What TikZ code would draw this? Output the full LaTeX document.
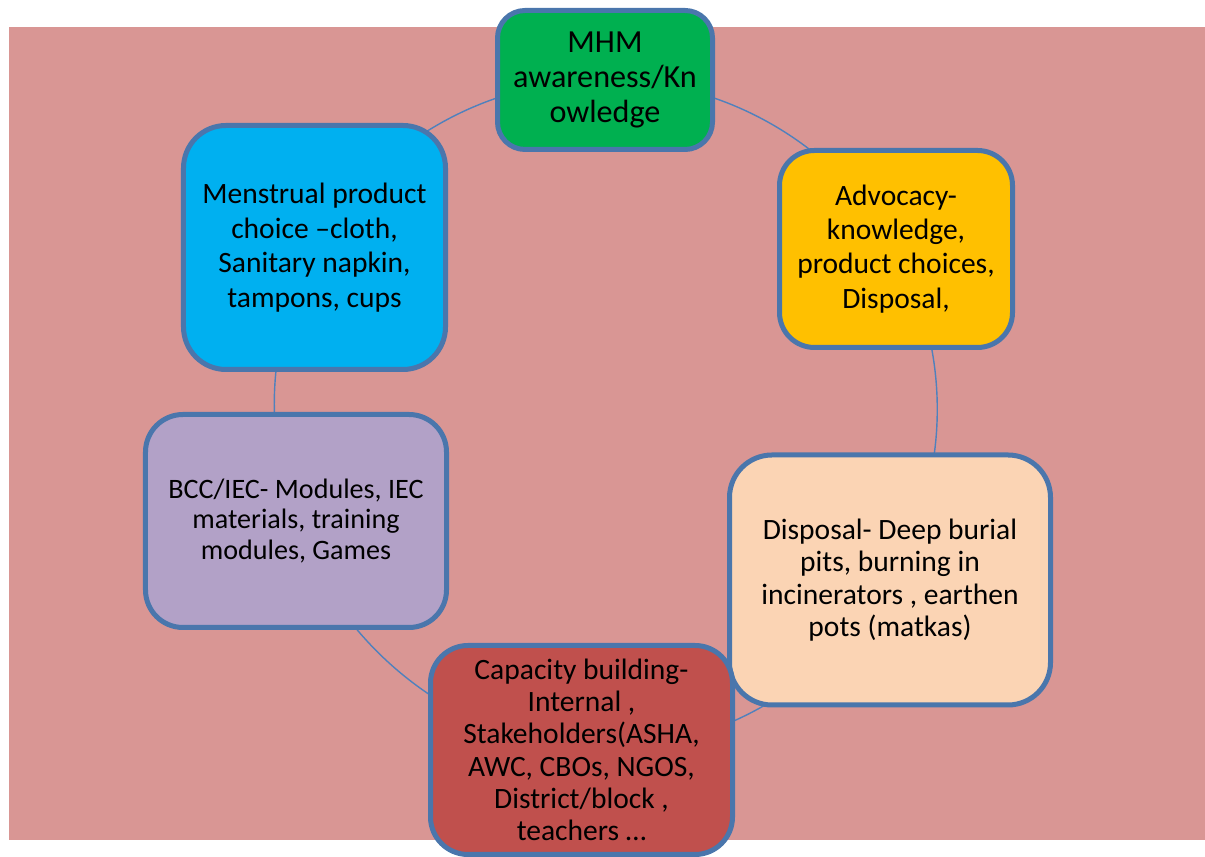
\documentclass[tikz,border=0pt]{standalone}
\usepackage{fontspec}
\setmainfont{Carlito}
\usepackage{xcolor}
\usepackage{tikz}
\usetikzlibrary{backgrounds}
\definecolor{MHMRose}{HTML}{D99694}
\definecolor{MHMEdge}{HTML}{4A76AC}
\definecolor{MHMRing}{HTML}{4F81BD}
\definecolor{MHMGreen}{HTML}{00B050}
\definecolor{MHMGold}{HTML}{FFC000}
\definecolor{MHMPeach}{HTML}{FBD4B4}
\definecolor{MHMRed}{HTML}{C0504D}
\definecolor{MHMLilac}{HTML}{B2A1C7}
\definecolor{MHMSky}{HTML}{00B0F0}

\begin{document}
\begin{tikzpicture}[
  x=0.2mm,y=0.2mm,
  card/.style={rounded corners=7.5mm,draw=MHMEdge,line width=1mm,align=center,inner sep=0pt,font=\fontsize{16.8}{18.4}\selectfont},
  ring/.style={draw=MHMRing,line width=0.8pt,looseness=0.91}
]
\useasboundingbox (0,0) rectangle (1205,857);
\coordinate (hub) at (606,446);
\node[card,fill=MHMGreen,minimum width=43mm,minimum height=27.8mm,rounded corners=5.5mm,font=\fontsize{18.3}{19.8}\selectfont] (aware) at (605,777) {MHM\\awareness/Kn\\owledge};
\node[card,fill=MHMGold,minimum width=46.6mm,minimum height=39.4mm,rounded corners=7mm,font=\fontsize{16.8}{19.5}\selectfont] (advo) at (896,608) {Advocacy-\\knowledge,\\product choices,\\Disposal,};
\node[card,fill=MHMPeach,minimum width=64.2mm,minimum height=50mm,rounded corners=8.5mm] (disp) at (890,277) {Disposal- Deep burial\\pits, burning in\\incinerators , earthen\\pots (matkas)};
\node[card,fill=MHMRed,minimum width=60.4mm,minimum height=41.8mm] (capa) at (581.5,107) {Capacity building-\\Internal ,\\Stakeholders(ASHA,\\AWC, CBOs, NGOS,\\District/block ,\\teachers …};
\node[card,fill=MHMLilac,minimum width=60.2mm,minimum height=42.6mm,font=\fontsize{16}{17.6}\selectfont] (bcc) at (296,336) {BCC/IEC- Modules, IEC\\materials, training\\modules, Games};
\node[card,fill=MHMSky,minimum width=52.4mm,minimum height=48.8mm,rounded corners=8.5mm,font=\fontsize{16.8}{19.6}\selectfont] (prod) at (314.5,609.5) {Menstrual product\\choice \textendash cloth,\\Sanitary napkin,\\tampons, cups};

\begin{scope}[on background layer]
\fill[MHMRose] (9,17) rectangle (1205,830);
\draw[ring] (aware.center) to[bend left=30.5] (advo.center);
\draw[ring] (advo.center) to[bend left=30] (disp.center);
\draw[ring] (disp.center) to[bend left=31.7] (capa.center);
\draw[ring] (capa.center) to[bend left=33] (bcc.center);
\draw[ring] (bcc.center) to[bend left=24.5] (prod.center);
\draw[ring] (prod.center) to[bend left=30] (aware.center);
\end{scope}
\end{tikzpicture}
\end{document}
